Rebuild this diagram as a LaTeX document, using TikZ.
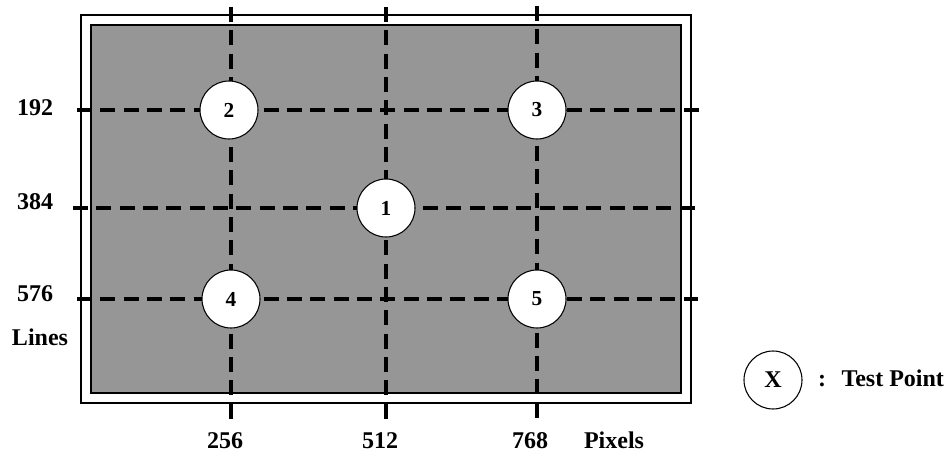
\documentclass[tikz,border=0pt]{standalone}
\usepackage{fontspec}
\setmainfont{Liberation Serif}
\definecolor{panelgray}{RGB}{150,150,150}
\tikzset{every picture/.style={line width=0.75pt}}
\tikzset{
  gridline/.style={line width=3pt,dash pattern=on 11.25pt off 6.25pt},
  testpt/.style={circle,draw,fill=white,line width=0.8pt,minimum size=43.5pt,inner sep=0pt,font=\fontsize{16}{18}\selectfont\bfseries},
  lbl/.style={inner sep=0pt,anchor=base,font=\fontsize{18}{20}\selectfont\bfseries}
}
\begin{document}
\begin{tikzpicture}[x=0.75pt,y=0.75pt,yscale=-1,xscale=1]
\useasboundingbox (0,0) rectangle (950,452);

%Shape: Rectangle [id:outerframe]
\draw [line width=1.1pt]  (81,15) -- (691,15) -- (691,403) -- (81,403) -- cycle ;
%Shape: Rectangle [id:innerpanel]
\draw [line width=1.5pt,fill=panelgray]  (91,25) -- (681,25) -- (681,393) -- (91,393) -- cycle ;

% Line ends
\coordinate (v1t) at (231,7);  \coordinate (v1b) at (231,420);
\coordinate (v2t) at (386,7);  \coordinate (v2b) at (386,420);
\coordinate (v3t) at (537,6);  \coordinate (v3b) at (537,420);
\coordinate (h1l) at (77,110); \coordinate (h1r) at (702,110);
\coordinate (h2l) at (73,208); \coordinate (h2r) at (702,208);
\coordinate (h3l) at (77,299); \coordinate (h3r) at (698,299);

%Shape: Dashed lines
\draw [gridline] (v1t) -- (v1b) ;
\draw [gridline] (v2t) -- (v2b) ;
\draw [gridline] (v3t) -- (v3b) ;
\draw [gridline] (h1l) -- (h1r) ;
\draw [gridline] (h2l) -- (h2r) ;
\draw [gridline] (h3l) -- (h3r) ;

%Shape: Circles
\node [testpt] (p1) at (386,208) {1};
\node [testpt] (p2) at (229,110) {2};
\node [testpt] (p3) at (537,110) {3};
\node [testpt] (p4) at (231,299) {4};
\node [testpt] (p5) at (537,299) {5};

% Text Node
\node [lbl] (l192) at (35,116) {192};
% Text Node
\node [lbl] (l384) at (35,210) {384};
% Text Node
\node [lbl] (l576) at (35,302) {576};
% Text Node
\node [lbl] (llines) at (40,345) {Lines};
% Text Node
\node [lbl] (l256) at (225,448) {256};
% Text Node
\node [lbl] (l512) at (380,448) {512};
% Text Node
\node [lbl] (l768) at (530,448) {768};
% Text Node
\node [lbl] (lpixels) at (614,448) {Pixels};

%Shape: Legend
\node [testpt,font=\fontsize{18}{20}\selectfont\bfseries] (key) at (773,380) {X};
% Text Node
\node [lbl] (colon) at (822,387) {:};
% Text Node
\node [lbl,anchor=base west] (keytext) at (841,387) {Test Point};

\end{tikzpicture}
\end{document}
